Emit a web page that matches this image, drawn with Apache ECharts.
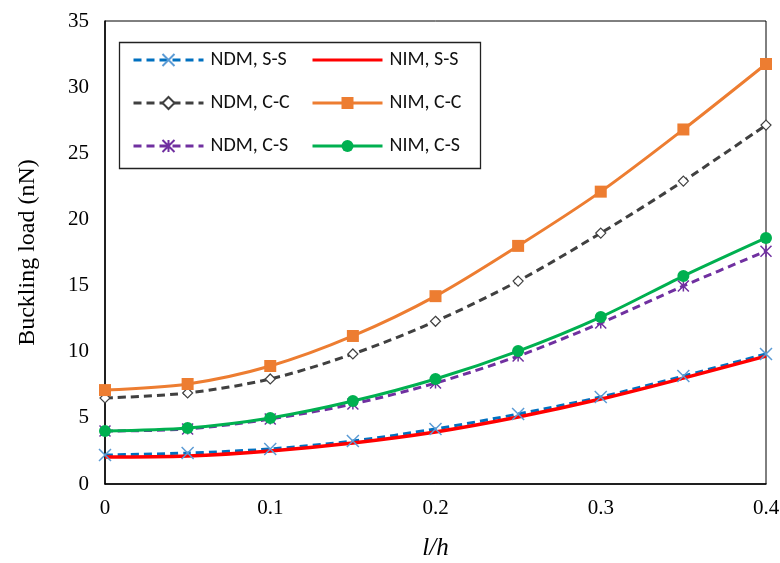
<!DOCTYPE html>
<html>
<head>
<meta charset="utf-8">
<script src="https://cdn.jsdelivr.net/npm/echarts@6/dist/echarts.min.js"></script>
<style>html,body{margin:0;padding:0;background:#fff}#c{width:780px;height:563px}</style>
</head>
<body>
<div id="c"></div>
<script>
const xValues = [0, 0.05, 0.1, 0.15, 0.2, 0.25, 0.3, 0.35, 0.4];
const ndmSS = [2.19, 2.34, 2.65, 3.25, 4.16, 5.29, 6.58, 8.16, 9.83];
const nimSS = [2.04, 2.12, 2.5, 3.1, 3.93, 5.06, 6.42, 8.0, 9.67];
const ndmCC = [6.5, 6.88, 7.94, 9.83, 12.3, 15.34, 18.97, 22.9, 27.13];
const nimCC = [7.1, 7.56, 8.92, 11.19, 14.2, 18.0, 22.1, 26.8, 31.75];
const ndmCS = [4.0, 4.16, 4.91, 6.05, 7.63, 9.67, 12.17, 14.97, 17.6];
const nimCS = [4.0, 4.23, 4.99, 6.27, 7.94, 10.05, 12.62, 15.72, 18.6];
const seriesNames = ['NDM, S-S', 'NIM, S-S', 'NDM, C-C', 'NIM, C-C', 'NDM, C-S', 'NIM, C-S'];
const yTicks = [0, 5, 10, 15, 20, 25, 30, 35];

const pairs = v => xValues.map((x, i) => [x, v[i]]);
const crossSym = 'path://M0,0L10,10M10,0L0,10';
const starSym = 'path://M0,0L10,10M10,0L0,10M5,0L5,10';
const serif = '"Liberation Serif", "Times New Roman", serif';
const sans = '"Carlito", "Open Sans", "Noto Sans", sans-serif';
const legendText = { fontFamily: sans, fontSize: 20, color: '#111', lineHeight: 28, padding: [0, 0, 0, 2] };

const chart = echarts.init(document.getElementById('c'));
chart.setOption({
  animation: false,
  backgroundColor: '#fff',
  grid: { left: 105, right: 14, top: 21, bottom: 79, show: true, borderColor: '#000', borderWidth: 1,
    outerBoundsMode: 'none', containLabel: false },
  graphic: [{ type: 'rect', left: 117, top: 40, shape: { width: 361, height: 126 },
    style: { fill: 'none', stroke: '#222', lineWidth: 1.3 }, z: 1 }],
  legend: [
    { data: [seriesNames[0], seriesNames[2], seriesNames[4]], orient: 'vertical', left: 127, top: 41,
      itemWidth: 70, itemHeight: 15, itemGap: 15, textStyle: legendText, lineStyle: { width: 3 } },
    { data: [{ name: seriesNames[1], itemStyle: { opacity: 0 } }, seriesNames[3], seriesNames[5]],
      orient: 'vertical', left: 306, top: 41,
      itemWidth: 70, itemHeight: 15, itemGap: 15, textStyle: legendText, lineStyle: { width: 3 } }
  ],
  xAxis: {
    type: 'value', min: 0, max: 0.4, interval: 0.1,
    name: 'l/h', nameLocation: 'middle', nameGap: 52,
    nameTextStyle: { fontFamily: serif, fontSize: 25, fontStyle: 'italic', color: '#000' },
    axisLine: { lineStyle: { color: '#000', width: 1.5 } },
    axisTick: { show: false },
    axisLabel: { fontFamily: serif, fontSize: 21, color: '#000', margin: 14 },
    splitLine: { show: false }
  },
  yAxis: {
    type: 'value', min: 0, max: 35, interval: 5,
    name: 'Buckling load (nN)', nameLocation: 'middle', nameGap: 65,
    nameTextStyle: { fontFamily: serif, fontSize: 24, color: '#000' },
    axisLine: { show: true, lineStyle: { color: '#000', width: 1.5 } },
    axisTick: { show: false },
    axisLabel: { fontFamily: serif, fontSize: 21, color: '#000', margin: 16,
      formatter: v => yTicks.includes(v) ? String(v) : '' },
    splitLine: { show: false }
  },
  series: [
    { name: seriesNames[0], type: 'line', smooth: 0.3, data: pairs(ndmSS),
      symbol: crossSym, symbolSize: 12,
      lineStyle: { color: '#0070C0', width: 3, type: [8, 5] },
      itemStyle: { color: '#5B9BD5', borderColor: '#5B9BD5', borderWidth: 1.5 } },
    { name: seriesNames[1], type: 'line', smooth: 0.3, data: pairs(nimSS), symbol: 'none',
      lineStyle: { color: '#FF0000', width: 3.5 }, itemStyle: { color: '#FF0000' } },
    { name: seriesNames[2], type: 'line', smooth: 0.3, data: pairs(ndmCC),
      symbol: 'diamond', symbolSize: 10,
      lineStyle: { color: '#404040', width: 3, type: [8, 5] },
      itemStyle: { color: '#fff', borderColor: '#404040', borderWidth: 1.2 } },
    { name: seriesNames[3], type: 'line', smooth: 0.3, data: pairs(nimCC),
      symbol: 'rect', symbolSize: 12,
      lineStyle: { color: '#ED7D31', width: 3 }, itemStyle: { color: '#ED7D31' } },
    { name: seriesNames[4], type: 'line', smooth: 0.3, data: pairs(ndmCS),
      symbol: starSym, symbolSize: 11,
      lineStyle: { color: '#7030A0', width: 3, type: [8, 5] },
      itemStyle: { color: '#7030A0', borderColor: '#7030A0', borderWidth: 1.5 } },
    { name: seriesNames[5], type: 'line', smooth: 0.3, data: pairs(nimCS),
      symbol: 'circle', symbolSize: 12,
      lineStyle: { color: '#00B050', width: 3 }, itemStyle: { color: '#00B050' } }
  ]
});
</script>
</body>
</html>
